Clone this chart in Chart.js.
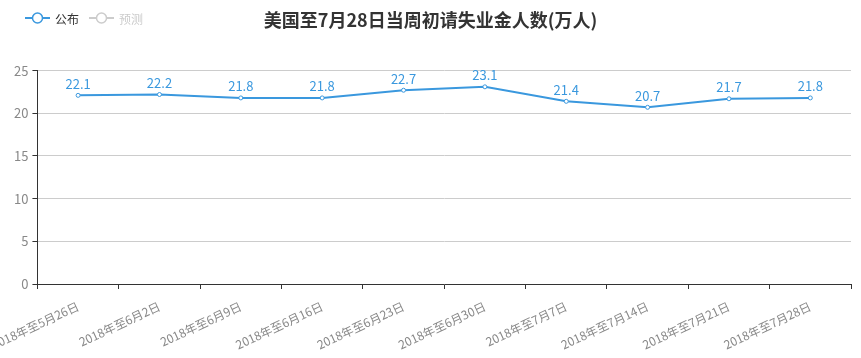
<!DOCTYPE html>
<html><head><meta charset="utf-8">
<script src="https://cdn.jsdelivr.net/npm/chart.js@4/dist/chart.umd.min.js"></script>
<style>html,body{margin:0;padding:0;background:#fff}#wrap{width:861px;height:358px}</style>
</head><body><div id="wrap"><canvas id="c" width="861" height="358"></canvas></div>
<script>
const categories = ["2018年至5月26日","2018年至6月2日","2018年至6月9日","2018年至6月16日","2018年至6月23日","2018年至6月30日","2018年至7月7日","2018年至7月14日","2018年至7月21日","2018年至7月28日"];
const published = [22.1,22.2,21.8,21.8,22.7,23.1,21.4,20.7,21.7,21.8];
const forecast = [null,null,null,null,null,null,null,null,null,null];
const yTicks = [0,5,10,15,20,25];
const titleText = "美国至7月28日当周初请失业金人数(万人)";
const seriesNames = ["公布","预测"];

const FONT = "'Noto Sans CJK SC', 'Microsoft YaHei', sans-serif";
const BLUE = "#3a98de";

const legendPlugin = {
  id: 'customLegend',
  afterDraw(chart) {
    const ctx = chart.ctx;
    const items = [{name: seriesNames[0], color: BLUE, text: '#333'}, {name: seriesNames[1], color: '#ccc', text: '#ccc'}];
    let x = 25; const y = 18;
    ctx.save();
    ctx.font = "12px " + FONT;
    ctx.textBaseline = 'middle';
    items.forEach(it => {
      ctx.strokeStyle = it.color; ctx.lineWidth = 2;
      ctx.beginPath(); ctx.moveTo(x, y); ctx.lineTo(x + 25, y); ctx.stroke();
      ctx.beginPath(); ctx.arc(x + 12.5, y, 5, 0, Math.PI * 2);
      ctx.fillStyle = '#fff'; ctx.fill(); ctx.lineWidth = 1.5; ctx.stroke();
      ctx.fillStyle = it.text; ctx.textAlign = 'left';
      ctx.fillText(it.name, x + 30, y + 1);
      x += 30 + ctx.measureText(it.name).width + 10;
    });
    ctx.restore();
  }
};

const valueLabels = {
  id: 'valueLabels',
  afterDatasetsDraw(chart) {
    const ctx = chart.ctx;
    const meta = chart.getDatasetMeta(0);
    ctx.save();
    ctx.font = "13px " + FONT;
    ctx.fillStyle = BLUE;
    ctx.textAlign = 'center';
    ctx.textBaseline = 'bottom';
    meta.data.forEach((p, i) => {
      ctx.fillText(published[i].toFixed(1), p.x, p.y - 5);
    });
    ctx.restore();
  }
};

new Chart(document.getElementById('c'), {
  type: 'line',
  data: {
    labels: categories,
    datasets: [
      {label: seriesNames[0], data: published, borderColor: BLUE, backgroundColor: '#fff', borderWidth: 2, pointRadius: 2, pointBorderWidth: 1, pointBackgroundColor: '#fff', pointBorderColor: BLUE, tension: 0},
      {label: seriesNames[1], data: forecast, hidden: true, borderColor: '#ccc'}
    ]
  },
  options: {
    responsive: false,
    animation: false,
    layout: {padding: {left: 10, right: 10, top: 0, bottom: 0}},
    plugins: {
      legend: {display: false},
      tooltip: {enabled: false},
      title: {display: true, text: titleText, color: '#333', font: {family: FONT, size: 18, weight: 'bold'}, padding: {top: 9, bottom: 40}}
    },
    scales: {
      x: {
        offset: true,
        grid: {display: true, offset: true, drawOnChartArea: false, drawTicks: true, tickLength: 5, color: '#333'},
        border: {color: '#333', width: 1},
        ticks: {color: '#888', font: {family: FONT, size: 12}, minRotation: 25, maxRotation: 25, autoSkip: false, padding: 10},
        afterFit(scale) { scale.paddingLeft = 0; scale.paddingRight = 0; scale.height = 74; }
      },
      y: {
        min: 0, max: 25,
        afterBuildTicks(scale) { scale.ticks = yTicks.map(v => ({value: v})); },
        grid: {color: '#ccc', tickColor: '#333', tickLength: 5},
        border: {color: '#333', width: 1},
        ticks: {color: '#888', font: {family: FONT, size: 13}, padding: 4}
      }
    }
  },
  plugins: [legendPlugin, valueLabels]
});
</script></body></html>
